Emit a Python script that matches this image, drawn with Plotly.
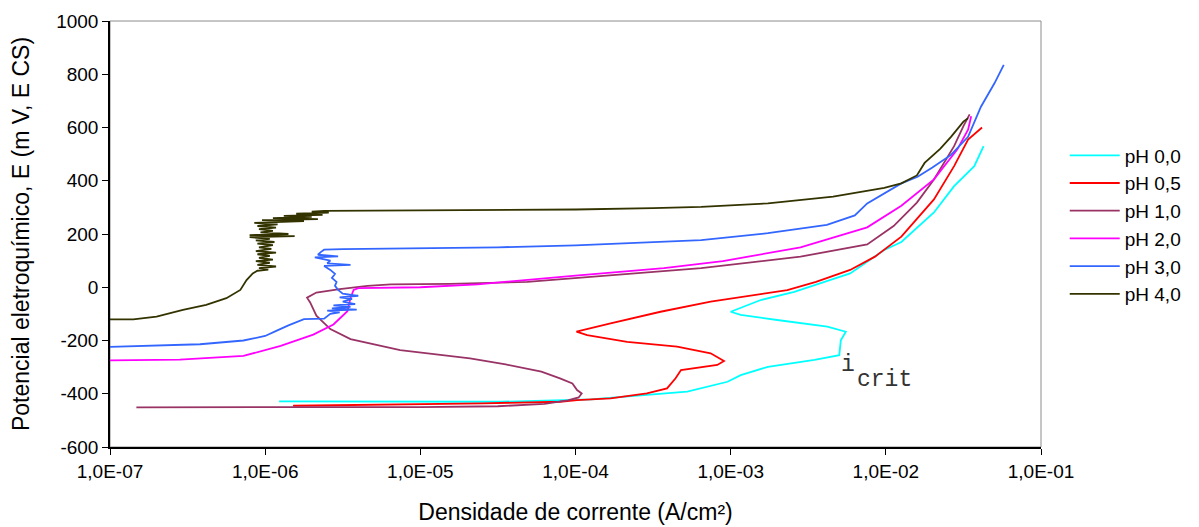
import numpy as np
import plotly.graph_objects as go

# ---- data (log10 of current density in A/cm², potential in mV vs ECS) ----
series_names = ["pH 0,0", "pH 0,5", "pH 1,0", "pH 2,0", "pH 3,0", "pH 4,0"]
series_colors = ["#00FFFF", "#FF0000", "#993366", "#FF00FF", "#3366FF", "#333300"]

logi_ph00 = [-5.91, -5.0, -4.48, -3.90, -3.56, -3.28, -3.02, -2.935, -2.76, -2.46, -2.30,
             -2.29, -2.258, -2.377, -2.70, -2.935, -3.0, -2.806, -2.59, -2.40, -2.23, -2.01,
             -1.90, -1.69, -1.56, -1.43, -1.37]
e_ph00 = [-429, -430, -430, -421, -405, -392, -355, -330, -299, -273, -255,
          -199, -167, -148, -123, -104, -92, -48, -17, 20, 52, 140,
          170, 281, 380, 455, 530]

logi_ph05 = [-5.82, -5.13, -4.6, -4.10, -3.99, -3.774, -3.54, -3.41, -3.355, -3.32, -3.086,
             -3.043, -3.129, -3.345, -3.667, -3.925, -3.994, -3.774, -3.452, -3.129, -2.806,
             -2.635, -2.45, -2.23, -2.07, -1.90, -1.69, -1.56, -1.47, -1.40, -1.38]
e_ph05 = [-445, -441, -436, -430, -424, -417, -399, -380, -342, -311, -292,
          -277, -248, -223, -205, -180, -167, -136, -92, -54, -26,
          -11, 20, 65, 115, 190, 330, 455, 555, 592, 600]

logi_ph10 = [-6.83, -6.0, -5.0, -4.5, -4.2, -4.05, -3.98, -3.96, -3.99, -4.02, -4.10, -4.22,
             -4.45, -4.68, -5.13, -5.45, -5.58, -5.67, -5.71, -5.73, -5.67, -5.52, -5.34,
             -5.19, -4.81, -4.31, -3.84, -3.19, -2.55, -2.12, -1.95, -1.80, -1.69, -1.56,
             -1.50, -1.46]
e_ph10 = [-451, -451, -450, -447, -438, -425, -414, -399, -386, -361, -342, -317,
          -290, -267, -236, -195, -157, -107, -57, -39, -20, -7, 5,
          11, 13, 20, 42, 72, 115, 161, 230, 318, 405, 530,
          605, 649]

logi_ph20 = [-7.0, -6.55, -6.14, -5.90, -5.69, -5.56, -5.47, -5.45, -5.43, -5.40, -5.0,
             -4.63, -4.0, -3.43, -3.05, -2.55, -2.12, -1.90, -1.69, -1.54, -1.47, -1.45]
e_ph20 = [-275, -272, -258, -220, -178, -140, -90, -40, -10, -3, 0,
          11, 44, 72, 98, 150, 225, 306, 405, 517, 592, 642]

logi_ph30 = [-7.0, -6.7, -6.42, -6.14, -6.0, -5.925, -5.85, -5.75, -5.62, -5.58, -5.52,
             -5.60, -5.41, -5.57, -5.45, -5.56, -5.42, -5.50, -5.44, -5.52, -5.40, -5.50,
             -5.53, -5.55, -5.54, -5.57, -5.55, -5.58, -5.62, -5.45, -5.60, -5.58, -5.68,
             -5.53, -5.66, -5.64, -5.62, -5.5, -5.0, -4.5, -4.0, -3.5, -3.19, -2.76, -2.38,
             -2.20, -2.12, -1.90, -1.795, -1.70, -1.58, -1.47, -1.387, -1.30, -1.24]
e_ph30 = [-224, -220, -214, -200, -183, -163, -143, -120, -118, -100, -94,
          -88, -84, -79, -74, -68, -63, -54, -44, -38, -32, -24,
          -10, 5, 20, 35, 50, 65, 80, 84, 90, 100, 112,
          116, 122, 133, 141, 143, 146, 150, 157, 168, 177, 203, 234,
          270, 315, 390, 415, 450, 497, 565, 678, 766, 835]

logi_ph40 = [-7.0, -6.85, -6.70, -6.53, -6.38, -6.25, -6.16, -6.12, -6.08, -6.05,
             -5.98, -6.04, -5.93, -6.05, -5.97, -6.06, -5.95, -6.04, -5.97, -6.05, -5.93,
             -6.06, -5.96, -6.04, -5.95, -6.05, -5.94, -6.06, -5.97, -6.10, -5.81, -6.10,
             -5.85, -6.03, -5.95, -6.04, -5.93, -6.05, -5.92, -6.07, -5.75, -6.02, -5.66,
             -5.95, -5.70, -5.88, -5.63, -5.80, -5.59, -5.70, -5.62,
             -5.0, -4.5, -4.0, -3.5, -3.19, -2.76, -2.34, -2.01, -1.90, -1.80, -1.75,
             -1.65, -1.58, -1.50, -1.47]
e_ph40 = [-121, -121, -110, -85, -66, -41, -10, 27, 52, 62,
          66, 72, 78, 84, 92, 98, 104, 110, 118, 124, 130,
          136, 144, 150, 158, 164, 170, 176, 182, 188, 192, 196,
          200, 206, 212, 218, 224, 230, 236, 242, 248, 252, 256,
          260, 264, 268, 272, 276, 280, 284, 287,
          289, 290, 292, 297, 302, 315, 340, 373, 390, 420, 467,
          520, 565, 622, 635]

log_currents = [logi_ph00, logi_ph05, logi_ph10, logi_ph20, logi_ph30, logi_ph40]
potentials = [e_ph00, e_ph05, e_ph10, e_ph20, e_ph30, e_ph40]

x_tick_vals = [1e-7, 1e-6, 1e-5, 1e-4, 1e-3, 1e-2, 1e-1]
x_tick_text = ["1,0E-07", "1,0E-06", "1,0E-05", "1,0E-04", "1,0E-03", "1,0E-02", "1,0E-01"]
y_tick_vals = [-600, -400, -200, 0, 200, 400, 600, 800, 1000]
y_tick_text = ["-600", "-400", "-200", "0", "200", "400", "600", "800", "1000"]

FONT = "Arial, Liberation Sans, sans-serif"

fig = go.Figure()
for name, color, lx, ev in zip(series_names, series_colors, log_currents, potentials):
    fig.add_trace(go.Scatter(
        x=np.power(10.0, np.array(lx)), y=ev, mode="lines", name=name,
        legendgroup=name,
        line=dict(color=color, width=1.8),
    ))

fig.add_shape(type="rect", xref="paper", yref="paper", x0=0, x1=1, y0=0, y1=1,
              line=dict(color="#8c8c8c", width=1), layer="below")

fig.add_annotation(x=-2.245, y=-292, xref="x", yref="y", text="i", showarrow=False,
                   font=dict(family="Liberation Mono, Courier New, monospace", size=23, color="#333333"))
fig.add_annotation(x=-2.006, y=-349, xref="x", yref="y", text="crit", showarrow=False,
                   font=dict(family="Liberation Mono, Courier New, monospace", size=23, color="#333333"))

fig.update_layout(
    width=1199, height=527,
    margin=dict(l=110, r=158, t=21, b=80),
    paper_bgcolor="white", plot_bgcolor="white",
    font=dict(family=FONT, color="black"),
    showlegend=True,
    legend=dict(x=1.0255, y=0.729, xanchor="left", yanchor="top",
                font=dict(size=19, family=FONT), tracegroupgap=0,
                bgcolor="rgba(0,0,0,0)", itemwidth=50),
    xaxis=dict(type="log", range=[-7, -1], tickvals=x_tick_vals, ticktext=x_tick_text,
               ticks="outside", ticklen=6, tickcolor="black", showline=True,
               linecolor="black", linewidth=1.5, showgrid=False, zeroline=False,
               tickfont=dict(size=19), mirror=False, automargin=False,
               title=dict(text="Densidade de corrente (A/cm²)", font=dict(size=23), standoff=23)),
    yaxis=dict(range=[-600, 1000], tickvals=y_tick_vals, ticktext=y_tick_text,
               ticks="outside", ticklen=6, tickcolor="black", showline=True,
               linecolor="black", linewidth=1.5, showgrid=False, zeroline=False,
               tickfont=dict(size=19), automargin=False,
               title=dict(text="Potencial eletroquímico, E (m V, E CS)", font=dict(size=23), standoff=20)),
)

fig.write_html("out.html", config={"displayModeBar": False},
               post_script="document.body.style.margin='0';document.body.style.overflow='hidden';")
